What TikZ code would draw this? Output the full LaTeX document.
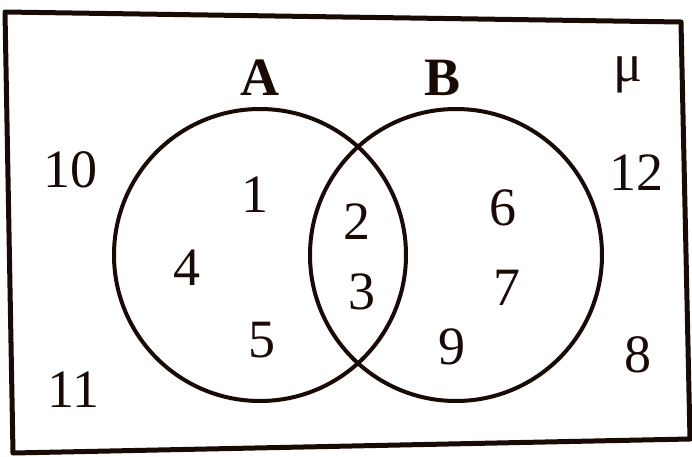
\documentclass[tikz,border=0pt]{standalone}
\usepackage{fontspec}
\setmainfont{Liberation Serif}
\begin{document}
\begin{tikzpicture}[x=0.5pt,y=-0.5pt,
  ink/.style={draw={rgb,255:red,25;green,10;blue,5}},
  setcircle/.style={ink,circle,line width=2pt,minimum size=146pt,inner sep=0pt},
  lbl/.style={text={rgb,255:red,25;green,10;blue,5},font=\fontsize{27}{30}\selectfont,inner sep=0pt},
  setname/.style={lbl,font=\fontsize{27}{30}\selectfont\bfseries}]
\useasboundingbox (0,0) rectangle (692,456);
\fill[white] (0,0) rectangle (692,456);
\coordinate (tl) at (5,12);
\coordinate (tr) at (681,22);
\coordinate (br) at (690,439);
\coordinate (bl) at (13,453);
\draw[ink,line width=2.5pt,line join=round] (tl) -- (tr) -- (br) -- (bl) -- cycle;
\node[setcircle] (cA) at (260,255) {};
\node[setcircle] (cB) at (456,255) {};
\node[setname] (nA) at (260,78) {A};
\node[setname] (nB) at (443,78) {B};
\node[lbl] (mu) at (628,75) {μ};
\node[lbl] (n10) at (70,170) {10};
\node[lbl] (n1) at (255,195) {1};
\node[lbl] (n2) at (357,222) {2};
\node[lbl] (n3) at (362,292) {3};
\node[lbl] (n4) at (187,268) {4};
\node[lbl] (n5) at (262,340) {5};
\node[lbl] (n6) at (503,208) {6};
\node[lbl] (n7) at (507,288) {7};
\node[lbl] (n9) at (452,347) {9};
\node[lbl] (n12) at (636,173) {12};
\node[lbl] (n8) at (638,355) {8};
\node[lbl] (n11) at (73,390) {11};
\end{tikzpicture}
\end{document}
